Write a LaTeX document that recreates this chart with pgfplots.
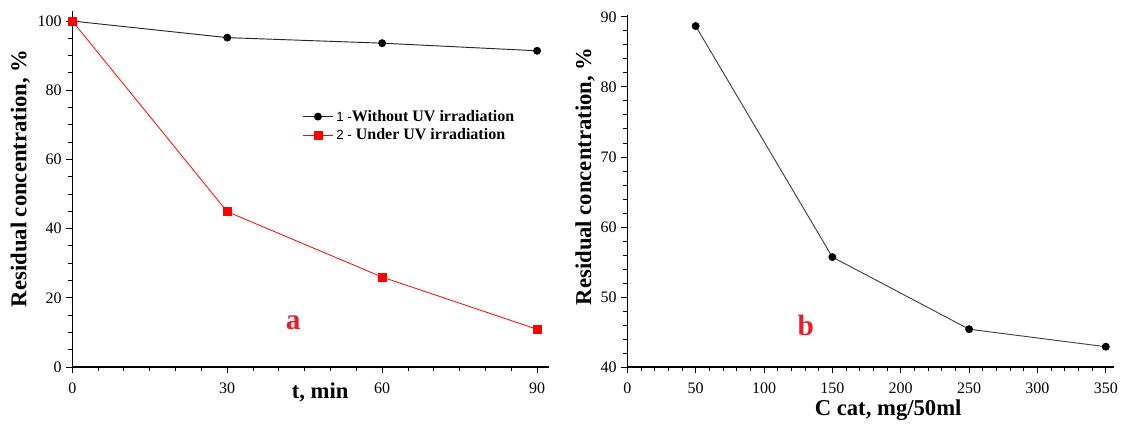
\documentclass[border=0pt]{standalone}
\usepackage{fontspec}
\setmainfont{Liberation Serif}
\setsansfont{Liberation Sans}
\usepackage{pgfplots}
\pgfplotsset{compat=1.18}
\definecolor{lblred}{RGB}{232,28,44}
\pgfplotsset{
  panel/.style={
    scale only axis,
    axis lines=left,
    axis line style={-, black, line width=0.8pt},
    tick align=outside,
    major tick length=4.5pt, minor tick length=3pt,
    every tick/.style={black, line width=0.7pt},
    tick label style={font=\fontsize{12}{14}\selectfont},
    xticklabel style={yshift=-4pt},
    /pgf/number format/assume math mode=true,
    label style={font=\bfseries\fontsize{17}{20}\selectfont},
    clip=false,
  },
  blk/.style={black!85, line width=0.7pt, mark=*, mark size=2.6pt,
    mark options={fill=black, draw=black}},
  rd/.style={red, line width=0.6pt, mark=square*, mark size=3pt,
    mark options={fill=red, draw=red}},
}

\begin{document}
\begin{tikzpicture}
\path[use as bounding box] (-54.2pt,-42.75pt) rectangle (786.5pt,275.25pt);

% panel a: residual concentration vs time
\begin{axis}[panel, width=357.5pt, height=267pt,
  xmin=0, xmax=92.3, ymin=0, ymax=102.9,
  xtick={0,30,60,90}, minor x tick num=5,
  ytick={0,20,40,60,80,100}, minor y tick num=3,
  xlabel={t, min}, ylabel={Residual concentration, \%},
  xlabel style={at={(axis description cs:0.52,-0.072)}, anchor=center},
  ylabel style={at={(axis description cs:-0.109,0.53)}, anchor=center},
  legend style={draw=none, fill=none, at={(0.482,0.73)}, anchor=north west,
    font=\fontsize{12}{14}\selectfont, row sep=0pt, inner sep=0pt},
  legend cell align=left,
  legend image code/.code={\draw[mark repeat=2, mark phase=2, #1]
    plot coordinates {(0cm,0cm) (0.4cm,0cm) (0.8cm,0cm)};},
]
\addplot[blk] coordinates {(0,100) (30,95.2) (60,93.6) (90,91.4)};
\addlegendentry{{\sffamily\fontsize{10}{12}\selectfont 1 -}\textbf{Without UV irradiation}}
\addplot[rd] coordinates {(0,100) (30,44.9) (60,26.0) (90,10.9)};
\addlegendentry{{\sffamily\fontsize{10}{12}\selectfont 2 -} \textbf{Under UV irradiation}}
\node[text=lblred, font=\bfseries\fontsize{22}{24}\selectfont] at (axis cs:42.8,12.7) {a};
\end{axis}

% panel b: residual concentration vs catalyst dose
\begin{axis}[panel, at={(416.25pt,0pt)}, anchor=south west,
  width=365pt, height=263.8pt,
  xmin=0, xmax=356, ymin=40, ymax=90.24,
  xtick={0,50,...,350}, minor x tick num=4,
  ytick={40,50,...,90}, minor y tick num=4,
  xlabel={C cat, mg/50ml}, ylabel={Residual concentration, \%},
  xlabel style={at={(axis description cs:0.536,-0.123)}, anchor=center},
  ylabel style={at={(axis description cs:-0.087,0.542)}, anchor=center},
]
\addplot[blk, black!75, mark options={fill=black, draw=black}] coordinates {(50,88.7) (150,55.7) (250,45.4) (350,42.9)};
\node[text=lblred, font=\bfseries\fontsize{22}{24}\selectfont] at (axis cs:130.6,46) {b};
\end{axis}
\end{tikzpicture}
\end{document}
